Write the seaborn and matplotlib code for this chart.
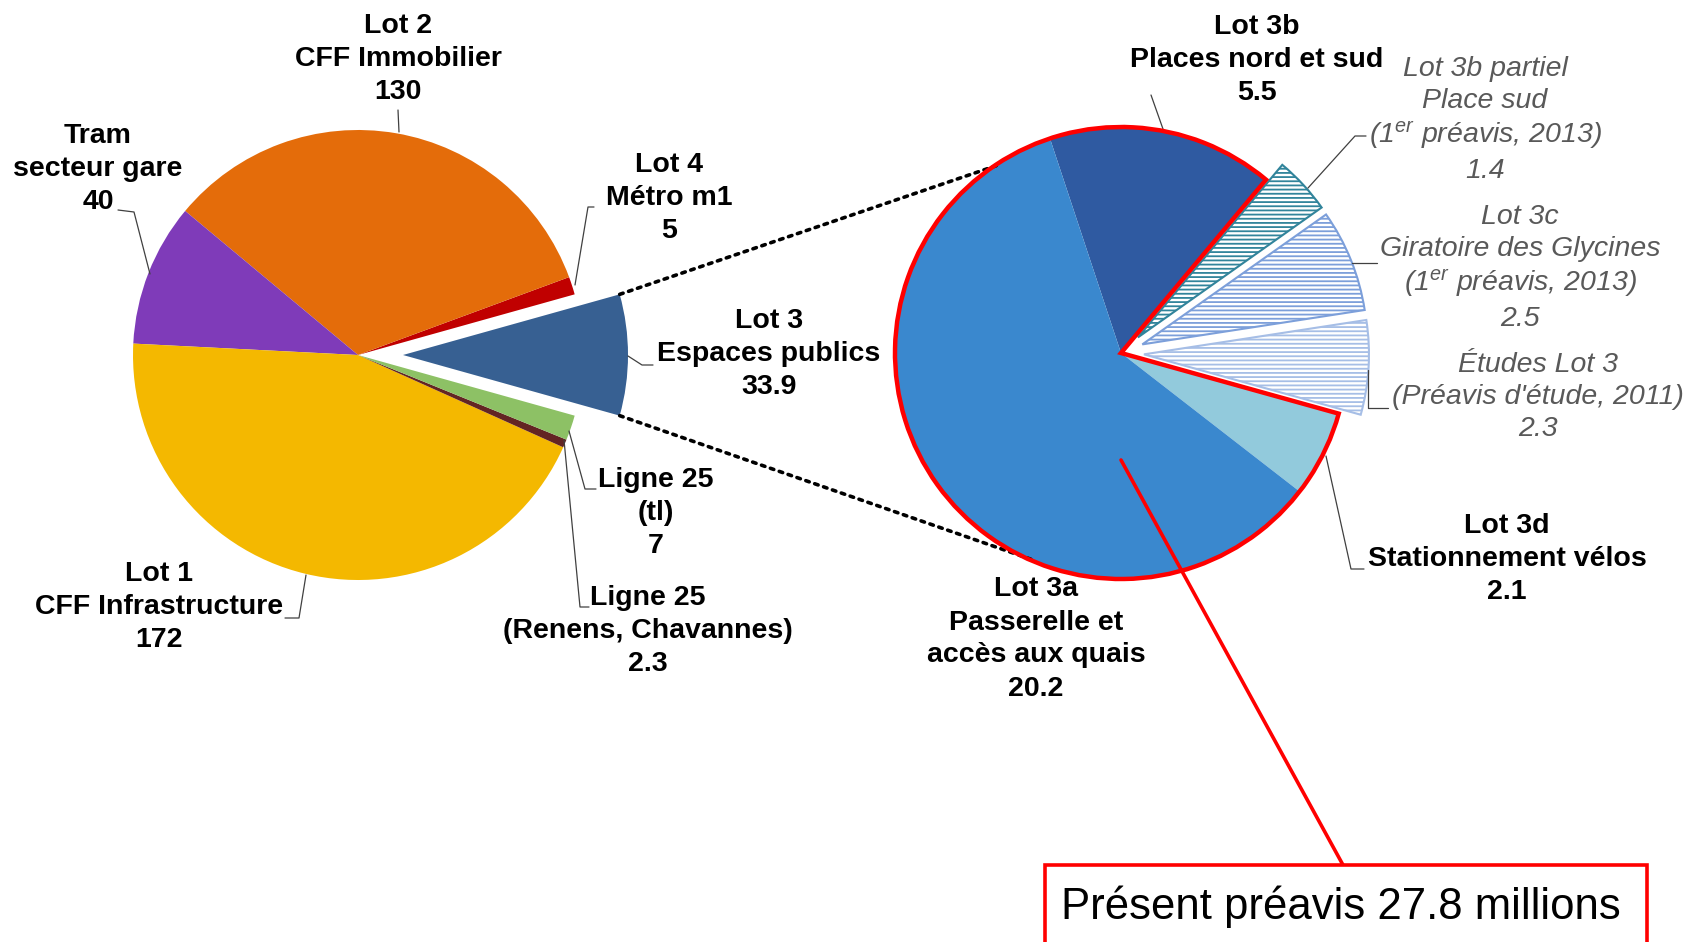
import numpy as np
import matplotlib
matplotlib.use("Agg")
import matplotlib.pyplot as plt
from matplotlib.patches import Wedge, Rectangle
import seaborn as sns

# left pie: global budget of the station project (millions)
left_names = ["Lot 3\nEspaces publics", "Lot 4\nMétro m1", "Lot 2\nCFF Immobilier",
              "Tram\nsecteur gare", "Lot 1\nCFF Infrastructure",
              "Ligne 25\n(Renens, Chavannes)", "Ligne 25\n(tl)"]
left_values = [33.9, 5, 130, 40, 172, 2.3, 7]
left_colors = ["#376092", "#C00000", "#E46C0A", "#7F3BB9", "#F4B800", "#632523", "#8DC165"]

# right pie: detail of Lot 3 (millions)
right_names = ["Lot 3d\nStationnement vélos", "Études Lot 3\n(Préavis d'étude, 2011)",
               "Lot 3c\nGiratoire des Glycines\n(1$^{er}$ préavis, 2013)",
               "Lot 3b partiel\nPlace sud\n(1$^{er}$ préavis, 2013)",
               "Lot 3b\nPlaces nord et sud", "Lot 3a\nPasserelle et\naccès aux quais"]
right_values = [2.1, 2.3, 2.5, 1.4, 5.5, 20.2]
right_colors = ["#92CADC", "#A6BEE6", "#7C9FDA", "#31849B", "#2F5AA1", "#3A88CE"]
right_hatched = [False, True, True, True, False, False]

box_text = "Présent préavis 27.8 millions"

sns.set_style("white")
plt.rcParams['font.family'] = ['Liberation Sans', 'DejaVu Sans']
plt.rcParams['mathtext.fontset'] = 'custom'
plt.rcParams['mathtext.it'] = 'Liberation Sans:italic'
plt.rcParams['mathtext.rm'] = 'Liberation Sans:italic'
plt.rcParams['hatch.linewidth'] = 1.3

W, H = 1684, 942
fig = plt.figure(figsize=(W / 100, H / 100), dpi=100)
ax = fig.add_axes([0, 0, 1, 1])

R = 225
cl = (358, H - 355)
cr = (1121, H - 353)
FS = 20.5
LS = 1.35

# left pie, Lot 3 centred on the horizontal and pulled out
start_l = -left_values[0] / sum(left_values) * 360 / 2
wl, _ = ax.pie(left_values, colors=left_colors, startangle=start_l, radius=R, center=cl,
               explode=[45, 0, 0, 0, 0, 0, 0], frame=True, wedgeprops=dict(linewidth=0))

# right pie
wr, _ = ax.pie(right_values, colors=right_colors, startangle=-37.8, radius=R, center=cr,
               explode=[23 if h else 0 for h in right_hatched], frame=True,
               wedgeprops=dict(linewidth=0))
for w, h, c in zip(wr, right_hatched, right_colors):
    if h:
        w.set_facecolor("white")
        w.set_edgecolor(c)
        w.set_hatch("----")
        w.set_linewidth(1.5)

# red outline around the wedges of the present request (3a, 3b, 3d)
tot = sum(right_values)
a1 = -37.8 + sum(right_values[:4]) / tot * 360
a2 = -37.8 + 360 + right_values[0] / tot * 360
ax.add_patch(Wedge(cr, R + 1, a1, a2, fill=False, edgecolor="red", linewidth=3.2, zorder=5))

# dotted zoom lines from exploded Lot 3 wedge to the right pie
w3 = wl[0]
for th, tr in [(w3.theta2, 123.6), (w3.theta1, 246.6)]:
    x0 = w3.center[0] + w3.r * np.cos(np.radians(th))
    y0 = w3.center[1] + w3.r * np.sin(np.radians(th))
    x1 = cr[0] + R * np.cos(np.radians(tr))
    y1 = cr[1] + R * np.sin(np.radians(tr))
    ax.plot([x0, x1], [y0, y1], color="black", linestyle=(0, (1, 1.6)), linewidth=2.6,
            solid_capstyle="round", dash_capstyle="round", zorder=1)

# labels (pixel layout, y from top)
left_pos = [(769, 354), (669, 198), (398, 59), (98, 169), (159, 607), (648, 631), (656, 513)]
left_lead = [[(653, 365), (642, 365), (628, 356)],
             [(594, 207), (588, 207), (575, 285)],
             [(398, 110), (399, 132)],
             [(118, 210), (134, 212), (150, 274)],
             [(285, 618), (299, 618), (306, 575)],
             [(589, 607), (580, 607), (564, 440)],
             [(596, 489), (585, 489), (569, 431)]]
for name, v, (x, y), lead in zip(left_names, left_values, left_pos, left_lead):
    ax.text(x, H - y, f"{name}\n{v:g}", ha="center", va="center", fontsize=FS,
            fontweight="bold", color="black", linespacing=LS)
    ax.plot([p[0] for p in lead], [H - p[1] for p in lead], color="#404040", linewidth=0.9)

right_pos = [(1507, 559), (1538, 397), (1520, 268), (1485, 120), (1257, 60), (1036, 639)]
right_lead = [[(1364, 569), (1351, 569), (1326, 456)],
              [(1388, 408), (1368, 408), (1368, 370)],
              [(1377, 263), (1352, 263)],
              [(1366, 136), (1355, 136), (1308, 188)],
              [(1163, 129), (1151, 95)],
              None]
for name, v, h, (x, y), lead in zip(right_names, right_values, right_hatched, right_pos, right_lead):
    if h:
        ax.text(x, H - y, f"{name}\n{v:g}", ha="center", va="center", fontsize=FS,
                style="italic", color="#595959", linespacing=1.28)
    else:
        ax.text(x, H - y, f"{name}\n{v:g}", ha="center", va="center", fontsize=FS,
                fontweight="bold", color="black", linespacing=LS)
    if lead:
        ax.plot([p[0] for p in lead], [H - p[1] for p in lead], color="#404040", linewidth=0.9)

# callout box
ax.plot([cr[0], 1343], [cr[1] - 107, H - 865], color="red", linewidth=2.6, zorder=6)
ax.add_patch(Rectangle((1045, -20), 602, H - 865 + 20, facecolor="white", edgecolor="red",
                       linewidth=2.6, zorder=6))
ax.text(1341, H - 907, box_text, ha="center", va="center", fontsize=31.5,
        family=["Liberation Sans Narrow", "Liberation Sans"], color="black", zorder=7)

ax.set_xlim(0, W)
ax.set_ylim(0, H)
ax.axis("off")
fig.savefig("out.png", dpi=100)
